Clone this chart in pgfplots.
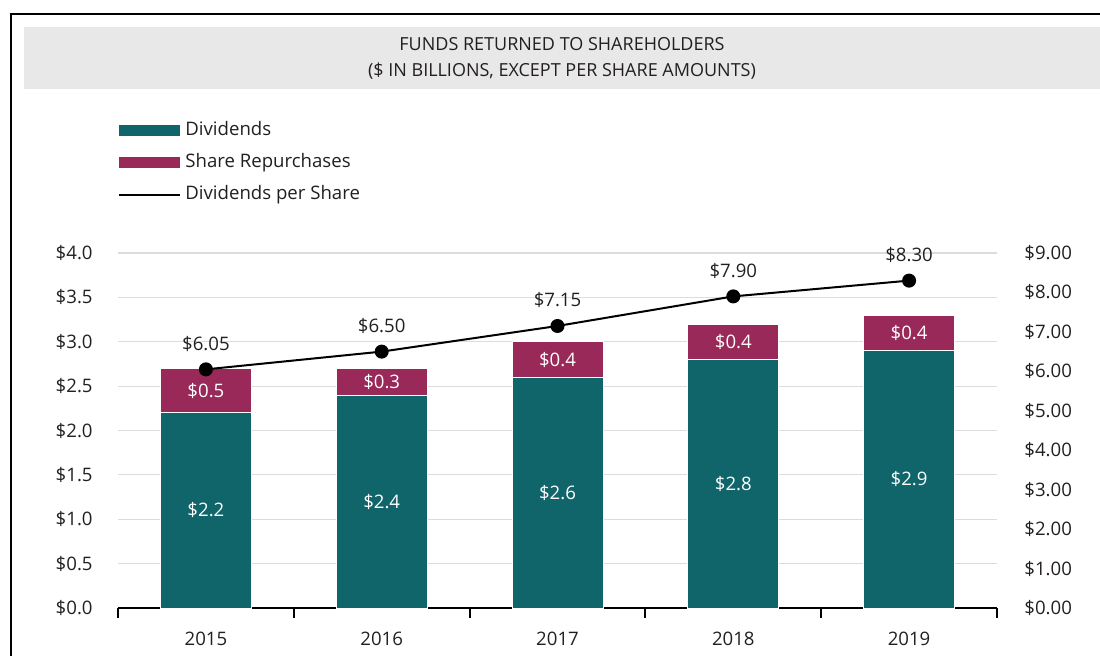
\documentclass[border=0pt]{standalone}
\usepackage{pgfplots}
\pgfplotsset{compat=1.18}
\usepackage{fontspec}
\setmainfont{Open Sans}
\definecolor{divcol}{HTML}{10656A}
\definecolor{repcol}{HTML}{992959}
\definecolor{gridgray}{HTML}{DCDCDC}
\definecolor{titlegray}{HTML}{E8E8E8}
\definecolor{txt}{HTML}{231F20}
\newcommand{\lblfont}{\fontsize{9.3}{11}\selectfont}
\begin{document}
\begin{tikzpicture}
\path[use as bounding box] (0,0) rectangle (550pt,327.5pt);
\fill[titlegray] (12pt,283pt) rectangle (550pt,314pt);
\node[font=\fontsize{9}{13}\selectfont, align=center, text=txt] at (281pt,298.5pt) {FUNDS RETURNED TO SHAREHOLDERS\\(\$ IN BILLIONS, EXCEPT PER SHARE AMOUNTS)};
\draw[line width=1.1pt] (5.5pt,-1pt) -- (5.5pt,320.5pt) -- (551pt,320.5pt);
\begin{axis}[
  at={(59pt,23.5pt)}, anchor=south west, scale only axis,
  width=439.5pt, height=177.5pt,
  xmin=-0.5, xmax=4.5, ymin=0, ymax=4,
  ybar stacked, bar width=45.5pt,
  axis x line*=bottom, axis y line*=left,
  x axis line style={-, black, line width=1pt},
  y axis line style={draw=none},
  xtick={0,1,2,3,4}, xticklabels={2015,2016,2017,2018,2019},
  minor xtick={-0.5,0.5,1.5,2.5,3.5,4.5},
  major tick length=0pt, minor tick length=5pt, tick align=outside,
  minor x tick style={black, line width=1pt},
  ytick={0,0.5,...,4},
  yticklabel={\$\pgfmathprintnumber[fixed,fixed zerofill,precision=1]{\tick}},
  /pgf/number format/assume math mode=true,
  ymajorgrids, grid style={draw=gridgray, line width=0.6pt},
  tick label style={font=\lblfont, text=txt},
  yticklabel style={anchor=east, inner sep=0pt, xshift=-12.5pt},
  xticklabel style={anchor=north, inner sep=0pt, yshift=-12pt},
  clip=false,
  legend cell align=left,
  legend style={at={(axis description cs:0,1.371)}, anchor=north west, draw=none, fill=none,
    inner sep=0pt, row sep=7pt, column sep=2pt,
    nodes={inner sep=0pt, anchor=west, font=\lblfont, text=txt, text height=7pt, text depth=2pt}},
]
\addplot[fill=divcol, draw=white, line width=0.4pt,
  legend image code/.code={\fill[divcol] (0pt,-2.5pt) rectangle (30pt,2.5pt);}]
  coordinates {(0,2.2) (1,2.4) (2,2.6) (3,2.8) (4,2.9)};
\addplot[fill=repcol, draw=white, line width=0.4pt,
  legend image code/.code={\fill[repcol] (0pt,-2.5pt) rectangle (30pt,2.5pt);}]
  coordinates {(0,0.5) (1,0.3) (2,0.4) (3,0.4) (4,0.4)};
\addlegendimage{legend image code/.code={\draw[black, line width=1pt] (0pt,0pt) -- (30.5pt,0pt);}}
\legend{Dividends, Share Repurchases, Dividends per Share}
\draw[black, line width=1pt] (rel axis cs:0,0) -- (rel axis cs:1,0);
\end{axis}
\begin{axis}[
  at={(59pt,23.5pt)}, anchor=south west, scale only axis,
  width=439.5pt, height=177.5pt,
  xmin=-0.5, xmax=4.5, ymin=0, ymax=9,
  axis x line=none, axis y line*=right,
  y axis line style={draw=none},
  ytick={0,1,...,9}, major tick length=0pt,
  yticklabel={\$\pgfmathprintnumber[fixed,fixed zerofill,precision=2]{\tick}},
  /pgf/number format/assume math mode=true,
  tick label style={font=\lblfont, text=txt},
  yticklabel style={anchor=west, inner sep=0pt, xshift=13.5pt},
  clip=false,
]
% bar value labels (left-axis value x 2.25 in this axis)
\node[text=white, font=\lblfont] at (axis cs:0,2.475) {\$2.2};
\node[text=white, font=\lblfont] at (axis cs:1,2.7) {\$2.4};
\node[text=white, font=\lblfont] at (axis cs:2,2.925) {\$2.6};
\node[text=white, font=\lblfont] at (axis cs:3,3.15) {\$2.8};
\node[text=white, font=\lblfont] at (axis cs:4,3.2625) {\$2.9};
\node[text=white, font=\lblfont] at (axis cs:0,5.5125) {\$0.5};
\node[text=white, font=\lblfont] at (axis cs:1,5.7375) {\$0.3};
\node[text=white, font=\lblfont] at (axis cs:2,6.3) {\$0.4};
\node[text=white, font=\lblfont] at (axis cs:3,6.75) {\$0.4};
\node[text=white, font=\lblfont] at (axis cs:4,6.975) {\$0.4};
\addplot[black, line width=1pt, mark=*, mark size=3pt, mark options={fill=black},
  nodes near coords, point meta=explicit symbolic,
  every node near coord/.append style={anchor=south, inner sep=0pt, yshift=8.5pt, font=\lblfont, text=txt}]
  coordinates {(0,6.05) [\$6.05] (1,6.50) [\$6.50] (2,7.15) [\$7.15] (3,7.90) [\$7.90] (4,8.30) [\$8.30]};
\end{axis}
\end{tikzpicture}
\end{document}
